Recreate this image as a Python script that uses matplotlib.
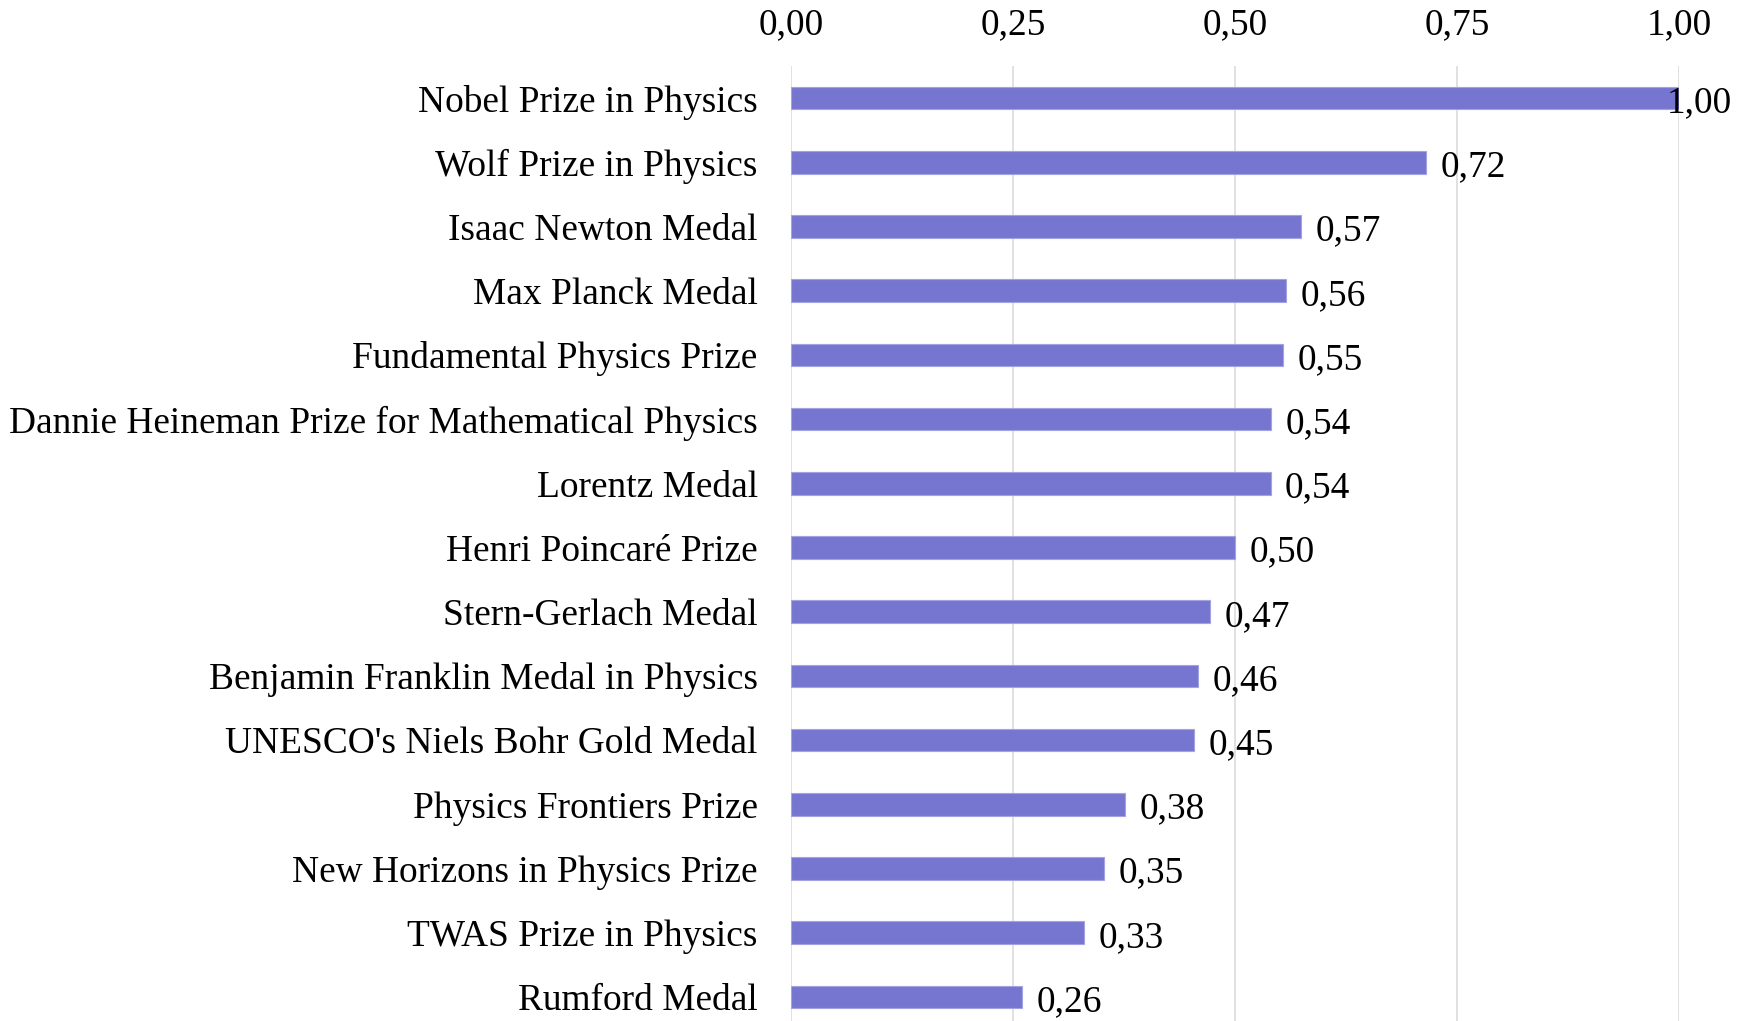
import matplotlib
matplotlib.use("Agg")
import matplotlib.pyplot as plt

categories = [
    "Nobel Prize in Physics",
    "Wolf Prize in Physics",
    "Isaac Newton Medal",
    "Max Planck Medal",
    "Fundamental Physics Prize",
    "Dannie Heineman Prize for Mathematical Physics",
    "Lorentz Medal",
    "Henri Poincaré Prize",
    "Stern-Gerlach Medal",
    "Benjamin Franklin Medal in Physics",
    "UNESCO's Niels Bohr Gold Medal",
    "Physics Frontiers Prize",
    "New Horizons in Physics Prize",
    "TWAS Prize in Physics",
    "Rumford Medal",
]
values = [1.00, 0.715, 0.574, 0.557, 0.554, 0.541, 0.540, 0.500,
          0.472, 0.458, 0.454, 0.376, 0.352, 0.330, 0.260]
value_labels = ["1,00", "0,72", "0,57", "0,56", "0,55", "0,54", "0,54", "0,50",
                "0,47", "0,46", "0,45", "0,38", "0,35", "0,33", "0,26"]
xticks = [0.0, 0.25, 0.5, 0.75, 1.0]
xtick_labels = ["0,00", "0,25", "0,50", "0,75", "1,00"]

plt.rcParams['font.family'] = ['Liberation Serif', 'DejaVu Serif']
FS = 26.9

W, H = 1750, 1021
fig = plt.figure(figsize=(W / 100, H / 100), dpi=100)
left, right, top = 791 / W, 1679 / W, 1 - 66 / H
ax = fig.add_axes([left, 0, right - left, top])

ypos = list(range(len(categories)))
ax.barh(ypos, values, height=0.35, color='#7676D0', edgecolor='#A3A3E3',
        linewidth=0.8, zorder=3)

ax.set_xlim(0, 1.0)
ax.set_ylim(14.375, -0.5)
ax.set_yticks(ypos)
ax.set_yticklabels(categories, fontsize=FS)
ax.set_xticks(xticks)
ax.set_xticklabels(xtick_labels, fontsize=FS)
ax.xaxis.tick_top()
ax.tick_params(axis='x', length=0, pad=17)
ax.tick_params(axis='y', length=0, pad=24)
for s in ax.spines.values():
    s.set_visible(False)
ax.grid(axis='x', color='#D9D9D9', linewidth=1.1, zorder=0)
ax.grid(axis='y', visible=False)

for y, v, lab in zip(ypos, values, value_labels):
    off = 10.5 if v < 0.99 else -9
    ax.annotate(lab, xy=(v, y), xytext=(off, -3.5), textcoords='offset points',
                ha='left', va='center', fontsize=FS, color='black',
                annotation_clip=False, zorder=4)

fig.savefig("out.png", dpi=100)
